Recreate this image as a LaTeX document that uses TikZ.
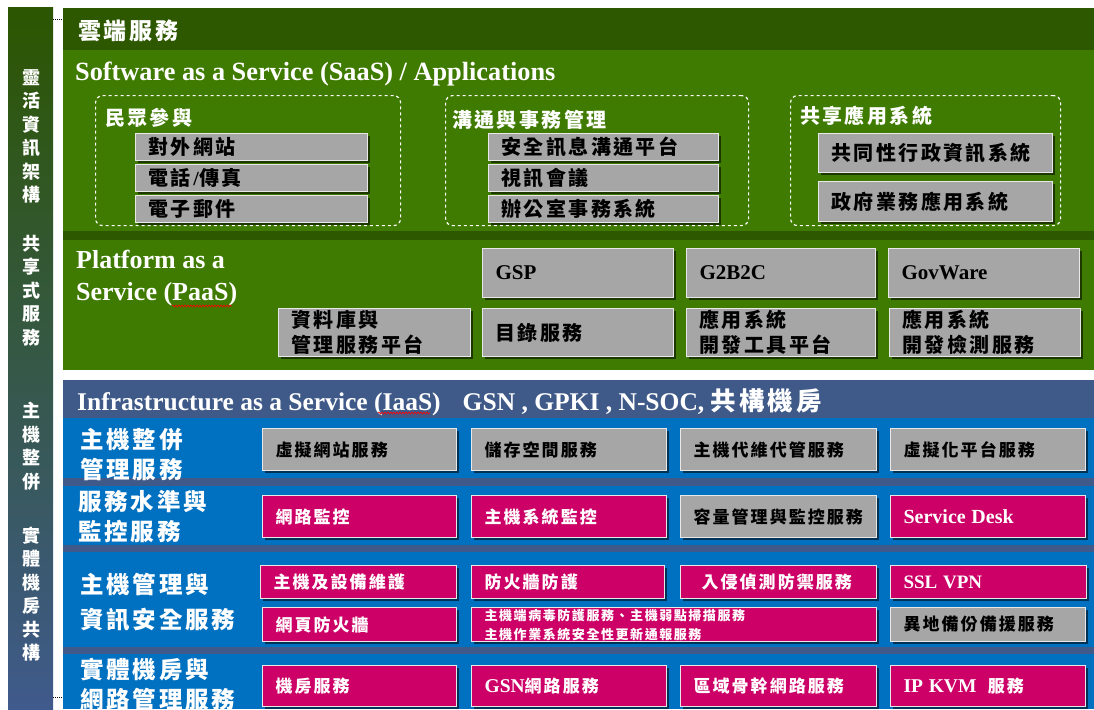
\documentclass[tikz,border=0pt]{standalone}
\usepackage{fontspec}
\setmainfont{Liberation Serif}
\newfontfamily\cjkfont{Noto Sans CJK TC}[LetterSpace=12]
\usetikzlibrary{shadows,decorations.pathmorphing}
\newcommand\zh[1]{{\cjkfont\bfseries #1}}
\definecolor{dkgreen}{HTML}{2E5800}
\definecolor{green1}{HTML}{3F7B00}
\definecolor{slate}{HTML}{3F5A88}
\definecolor{blue1}{HTML}{0070C0}
\definecolor{boxgray}{HTML}{A6A6A6}
\definecolor{mag}{HTML}{CC0066}
\definecolor{edge}{HTML}{E8E8E8}
\definecolor{barTop}{HTML}{2C5600}
\definecolor{barBot}{HTML}{3F5A8C}
\newcommand\bx[7]{%
  \pgfmathsetmacro\mybw{#4-#2}\pgfmathsetmacro\mybh{#5-#3}\pgfmathsetmacro\mytw{#4-#2-26}%
  \node[#6, minimum width=\mybw pt, minimum height=\mybh pt, text width=\mytw pt] (#1) at (#2,#3) {#7};}
\newcommand\pnl[5]{%
  \pgfmathsetmacro\mybh{#4-#3}%
  \node[panel, fill=#5, minimum height=\mybh pt] (#1) at (#2,#3) {};}
\tikzset{
  panel/.style={draw=none, inner sep=0, anchor=north west, minimum width=1031pt},
  gbox/.style={fill=boxgray, draw=edge, line width=1.2pt,
    drop shadow={shadow xshift=2pt, shadow yshift=-2pt, fill=black, opacity=.55},
    inner ysep=0pt, inner xsep=13pt, align=left, anchor=north west, text=black,
    font=\fontsize{17}{19}\selectfont},
  mbox/.style={gbox, fill=mag, text=white},
  sbox/.style={gbox, font=\fontsize{20}{25}\selectfont},
  pbox/.style={gbox, font=\fontsize{20}{25}\selectfont},
  wtxt/.style={text=white, inner sep=0pt, anchor=west, align=left},
  dbox/.style={draw=white, dashed, line width=1.2pt, rounded corners=7pt, inner sep=0, anchor=north west},
  vtxt/.style={text=white, inner sep=0pt, align=center, font=\fontsize{18}{23.5}\selectfont},
  rlab/.style={wtxt, font=\fontsize{23.5}{30}\selectfont},
  squig/.style={red, line width=0.6pt, decorate, decoration={snake, amplitude=1pt, segment length=3pt}},
}
\begin{document}
\begin{tikzpicture}[x=1pt,y=-1pt]
\useasboundingbox (0,0) rectangle (1094,709);
\fill[white] (0,0) rectangle (1094,709);
% left bar
\node[anchor=north west, inner sep=0, minimum width=45pt, minimum height=702pt,
  top color=barTop, bottom color=barBot] (bar) at (8,7) {};
\node[vtxt] (v1) at (31,136.5) {\zh{靈}\\\zh{活}\\\zh{資}\\\zh{訊}\\\zh{架}\\\zh{構}};
\node[vtxt] (v2) at (31,290.5) {\zh{共}\\\zh{享}\\\zh{式}\\\zh{服}\\\zh{務}};
\node[vtxt] (v3) at (31,446) {\zh{主}\\\zh{機}\\\zh{整}\\\zh{併}};
\node[vtxt] (v4) at (31,594) {\zh{實}\\\zh{體}\\\zh{機}\\\zh{房}\\\zh{共}\\\zh{構}};
\draw[densely dotted, line width=1pt] (53,20) -- (63,20);
\draw[densely dotted, line width=1pt] (53,697) -- (63,697);
% panels
\pnl{hdr}{63}{8}{50}{dkgreen}
\pnl{saas}{63}{50}{231}{green1}
\pnl{sep}{63}{231}{240}{dkgreen}
\pnl{paas}{63}{240}{370}{green1}
\pnl{ih}{63}{380}{418}{slate}
\pnl{r1}{63}{418}{478}{blue1}
\pnl{s1}{63}{478}{486}{slate}
\pnl{r2}{63}{486}{545}{blue1}
\pnl{s2}{63}{545}{552}{slate}
\pnl{r3}{63}{552}{647}{blue1}
\pnl{s3}{63}{647}{654}{slate}
\pnl{r4}{63}{654}{709}{blue1}
% titles
\node[wtxt, font=\fontsize{23}{26}\selectfont] (t0) at (78,31) {\zh{雲端服務}};
\node[wtxt, font=\fontsize{26.3}{30}\selectfont\bfseries] (t1) at (75,74) {Software as a Service (SaaS) / Applications};
% SaaS groups
\node[dbox, minimum width=305pt, minimum height=130pt] (g1) at (95,95) {};
\node[dbox, minimum width=303pt, minimum height=130pt] (g2) at (445,95) {};
\node[dbox, minimum width=270pt, minimum height=130pt] (g3) at (790,95) {};
\node[wtxt, font=\fontsize{20}{22}\selectfont] (g1l) at (105,118) {\zh{民眾參與}};
\node[wtxt, font=\fontsize{20}{22}\selectfont] (g2l) at (452,120) {\zh{溝通與事務管理}};
\node[wtxt, font=\fontsize{20}{22}\selectfont] (g3l) at (800,116) {\zh{共享應用系統}};
\bx{a1}{135}{133}{367}{160}{sbox}{\zh{對外網站}}
\bx{a2}{135}{164}{367}{191}{sbox}{\zh{電話}\textbf{/}\zh{傳真}}
\bx{a3}{135}{195}{367}{222}{sbox}{\zh{電子郵件}}
\bx{b1}{488}{133}{718}{160}{sbox}{\zh{安全訊息溝通平台}}
\bx{b2}{488}{164}{718}{191}{sbox}{\zh{視訊會議}}
\bx{b3}{488}{195}{718}{222}{sbox}{\zh{辦公室事務系統}}
\bx{c1}{818}{133}{1052}{172}{sbox}{\zh{共同性行政資訊系統}}
\bx{c2}{818}{181}{1052}{221}{sbox}{\zh{政府業務應用系統}}
% PaaS
\node[wtxt, font=\fontsize{26}{32}\selectfont\bfseries] (pt) at (76,278) {Platform as a\\Service (PaaS)};
\draw[squig] (172,306) -- (232,306);
\bx{p1}{482}{248}{673}{297}{pbox}{\fontsize{21}{24}\selectfont\textbf{GSP}}
\bx{p2}{686}{248}{875}{297}{pbox}{\fontsize{21}{24}\selectfont\textbf{G2B2C}}
\bx{p3}{888}{248}{1079}{297}{pbox}{\fontsize{21}{24}\selectfont\textbf{GovWare}}
\bx{p4}{278}{308}{470}{356}{pbox}{\zh{資料庫與}\\\zh{管理服務平台}}
\bx{p5}{482}{308}{673}{356}{pbox}{\zh{目錄服務}}
\bx{p6}{686}{308}{875}{356}{pbox}{\zh{應用系統}\\\zh{開發工具平台}}
\bx{p7}{889}{308}{1080}{356}{pbox}{\zh{應用系統}\\\zh{開發檢測服務}}
% IaaS
\node[wtxt, font=\fontsize{25.5}{28}\selectfont\bfseries] (it) at (77,402) {Infrastructure as a Service (IaaS)\hspace{22pt}GSN , GPKI , N-SOC, \zh{共構機房}};
\draw[squig] (378,413) -- (430,413);
\node[rlab] (l1) at (80,455) {\zh{主機整併}\\\zh{管理服務}};
\node[rlab] (l2) at (78,517) {\zh{服務水準與}\\\zh{監控服務}};
\node[rlab, font=\fontsize{23.5}{35}\selectfont] (l3) at (80,602) {\zh{主機管理與}\\\zh{資訊安全服務}};
\node[rlab] (l4) at (80,684) {\zh{實體機房與}\\\zh{網路管理服務}};
% row 1
\bx{i11}{262}{428}{456}{470}{gbox}{\zh{虛擬網站服務}}
\bx{i12}{471}{428}{666}{470}{gbox}{\zh{儲存空間服務}}
\bx{i13}{680}{428}{876}{470}{gbox}{\zh{主機代維代管服務}}
\bx{i14}{890}{428}{1085}{470}{gbox}{\zh{虛擬化平台服務}}
% row 2
\bx{i21}{262}{495}{456}{537}{mbox}{\zh{網路監控}}
\bx{i22}{471}{495}{666}{537}{mbox}{\zh{主機系統監控}}
\bx{i23}{680}{495}{876}{537}{gbox}{\zh{容量管理與監控服務}}
\bx{i24}{890}{495}{1085}{537}{mbox}{\fontsize{20}{22}\selectfont\textbf{Service Desk}}
% row 3
\bx{i31}{260}{565}{456}{598}{mbox}{\zh{主機及設備維護}}
\bx{i32}{471}{565}{664}{598}{mbox}{\zh{防火牆防護}}
\bx{i33}{680}{565}{876}{598}{mbox}{\hspace*{8pt}\zh{入侵偵測防禦服務}}
\bx{i34}{890}{565}{1086}{598}{mbox}{\fontsize{19}{22}\selectfont\textbf{SSL VPN}}
\bx{i35}{262}{607}{456}{641}{mbox}{\zh{網頁防火牆}}
\bx{i36}{471}{607}{876}{641}{mbox}{\fontsize{13}{16.5}\selectfont\zh{主機端病毒防護服務、主機弱點掃描服務}\\\zh{主機作業系統安全性更新通報服務}}
\bx{i37}{890}{607}{1085}{641}{gbox}{\zh{異地備份備援服務}}
% row 4
\bx{i41}{262}{665}{456}{706}{mbox}{\zh{機房服務}}
\bx{i42}{471}{665}{666}{706}{mbox}{\fontsize{19.5}{22}\selectfont\textbf{GSN}\fontsize{17}{22}\selectfont\zh{網路服務}}
\bx{i43}{680}{665}{876}{706}{mbox}{\zh{區域骨幹網路服務}}
\bx{i44}{890}{665}{1085}{706}{mbox}{\fontsize{19.5}{22}\selectfont\textbf{IP KVM}\ \ \fontsize{17}{22}\selectfont\zh{服務}}
\end{tikzpicture}
\end{document}
